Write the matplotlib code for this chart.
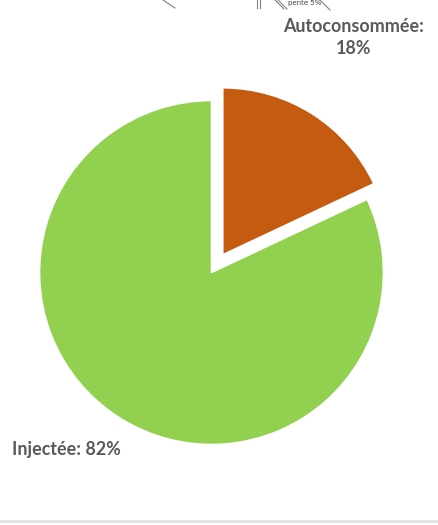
import matplotlib.pyplot as plt
from matplotlib.lines import Line2D

# share of the PV production
labels = ['Autoconsommée', 'Injectée']
shares = [18, 82]
colors = ['#C55A11', '#92D050']

W, H = 438, 525
fig = plt.figure(figsize=(W / 100, H / 100), dpi=100)

# pie centre and radius in pixels (from top-left)
cx, cy, r = 211.5, 272.5, 172
lim = 1.25
half = r * lim
ax = fig.add_axes([(cx - half) / W, (H - cy - half) / H, 2 * half / W, 2 * half / H])

wedges, _ = ax.pie(shares, colors=colors, startangle=90, counterclock=False,
                   explode=[0.122, 0], radius=1,
                   wedgeprops=dict(edgecolor='white', linewidth=1.2))
wedges[0].set_radius(167 / 172)
ax.set_xlim(-lim, lim)
ax.set_ylim(-lim, lim)
ax.set_aspect('equal')
ax.axis('off')

txt = dict(color='#595959', fontweight='bold', family=['Lato', 'DejaVu Sans'], fontsize=12.9)
fig.text(354 / W, 1 - 26 / H, labels[0] + ':', ha='center', va='center', **txt)
fig.text(354 / W, 1 - 48 / H, str(shares[0]) + '%', ha='center', va='center', **txt)
fig.text(12 / W, 1 - 450 / H, labels[1] + ': ' + str(shares[1]) + '%', ha='left', va='center', **txt)

# fragments of the drawing above (cropped)
def px_line(x0, y0, x1, y1, lw=0.8):
    fig.add_artist(Line2D([x0 / W, x1 / W], [1 - y0 / H, 1 - y1 / H], color='#808080', lw=lw))

px_line(163, 0, 175, 8)
px_line(257, 0, 257, 8)
px_line(260, 0, 260, 8)
px_line(275, 0, 284, 9)
px_line(278, 0, 287, 9)
px_line(320, 0, 330, 10)
fig.text(305 / W, 1 - 3 / H, 'pente 5%', ha='center', va='center', fontsize=5, color='#404040')

# bottom border
fig.add_artist(Line2D([0, 1], [1 - 521 / H, 1 - 521 / H], color='#e0e0e0', lw=2))

fig.savefig('out.png', dpi=100)
